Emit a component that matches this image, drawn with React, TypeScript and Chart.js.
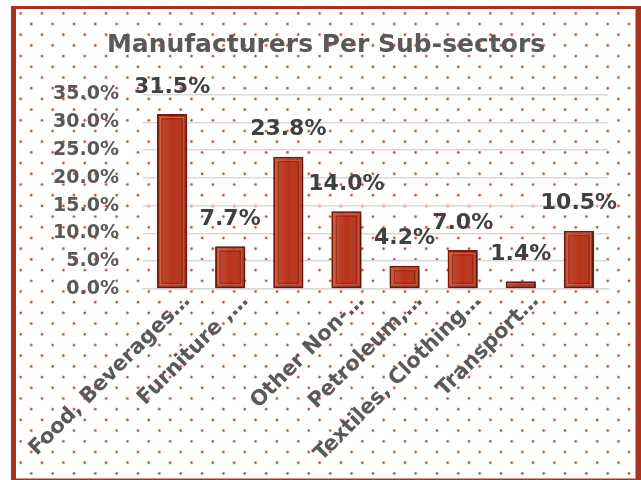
import React, { useEffect, useRef } from 'react';
import { Chart, registerables } from 'chart.js';

Chart.register(...registerables);

const titleText = 'Manufacturers Per Sub-sectors';
const categories = [
  'Food, Beverages…',
  'Furniture ,…',
  '',
  'Other Non-…',
  'Petroleum,…',
  'Textiles, Clothing…',
  'Transport…',
  '',
];
const values = [31.5, 7.7, 23.8, 14.0, 4.2, 7.0, 1.4, 10.5];
const yMin = 0;
const yMax = 35;
const yStep = 5;

const FONT = '"DejaVu Sans", Lato, sans-serif';
const GRAY = '#595959';
const DARK = '#404040';
const BORDER_RED = '#a8321c';

export default function App() {
  const ref = useRef<HTMLCanvasElement>(null);

  useEffect(() => {
    const canvas = ref.current;
    if (!canvas) return;

    const bgPlugin = {
      id: 'bgPattern',
      beforeDraw(chart: any) {
        const ctx = chart.ctx as CanvasRenderingContext2D;
        ctx.save();
        ctx.fillStyle = '#ffffff';
        ctx.fillRect(0, 0, chart.width, chart.height);
        const px = 21.35;
        const py = 10.7;
        for (let r = 0; ; r++) {
          const y = 13.3 + r * py;
          if (y > chart.height) break;
          const x0 = 20.7 + (r % 2 ? 10.6 : 0);
          for (let x = x0; x < chart.width - 4; x += px) {
            ctx.fillStyle = 'rgba(214,110,80,0.35)';
            ctx.beginPath();
            ctx.arc(x, y, 1.9, 0, Math.PI * 2);
            ctx.fill();
            ctx.fillStyle = '#c24a2c';
            ctx.beginPath();
            ctx.arc(x, y, 1.1, 0, Math.PI * 2);
            ctx.fill();
          }
        }
        ctx.restore();
      },
      afterDraw(chart: any) {
        const ctx = chart.ctx as CanvasRenderingContext2D;
        ctx.save();
        ctx.fillStyle = BORDER_RED;
        ctx.fillRect(11, 6, 5, chart.height - 6);
        ctx.fillRect(11, 6, chart.width - 11, 3);
        ctx.fillRect(635.5, 6, chart.width - 635.5, chart.height - 6);
        ctx.fillRect(11, 478.5, chart.width - 11, 2);
        // title
        ctx.fillStyle = GRAY;
        ctx.font = `bold 25px ${FONT}`;
        ctx.textAlign = 'center';
        ctx.textBaseline = 'middle';
        ctx.fillText(titleText, 326, 45);
        ctx.restore();
      },
      beforeDatasetsDraw(chart: any) {
        const ctx = chart.ctx as CanvasRenderingContext2D;
        ctx.save();
        ctx.shadowColor = 'rgba(0,0,0,0.35)';
        ctx.shadowBlur = 5;
        ctx.shadowOffsetX = 2;
        ctx.shadowOffsetY = 2;
      },
      afterDatasetsDraw(chart: any) {
        const ctx = chart.ctx as CanvasRenderingContext2D;
        ctx.restore();
        const meta = chart.getDatasetMeta(0);
        ctx.save();
        meta.data.forEach((el: any, i: number) => {
          const left = el.x - el.width / 2;
          const top = Math.min(el.y, el.base);
          const h = Math.abs(el.base - el.y);
          const w = el.width;
          // shading
          const g = ctx.createLinearGradient(left, 0, left + w, 0);
          g.addColorStop(0, 'rgba(255,200,180,0.18)');
          g.addColorStop(0.5, 'rgba(255,255,255,0)');
          g.addColorStop(1, 'rgba(60,0,0,0.15)');
          ctx.fillStyle = g;
          ctx.fillRect(left + 2, top + 2, w - 4, h - 4);
          // bevel
          if (h > 8) {
            ctx.strokeStyle = 'rgba(230,120,95,0.55)';
            ctx.lineWidth = 1;
            ctx.strokeRect(left + 3.5, top + 3.5, w - 7, h - 7);
            ctx.strokeStyle = 'rgba(110,20,5,0.45)';
            ctx.strokeRect(left + 5, top + 5, w - 10, h - 10);
          }
          // data label
          ctx.fillStyle = DARK;
          ctx.font = `bold 22px ${FONT}`;
          ctx.textAlign = 'center';
          ctx.textBaseline = 'middle';
          ctx.fillText(values[i].toFixed(1) + '%', el.x, el.y - 27);
        });
        ctx.restore();
      },
    };

    const chart = new Chart(canvas, {
      type: 'bar',
      data: {
        labels: categories,
        datasets: [
          {
            data: values,
            backgroundColor: '#b8331a',
            borderColor: '#7a1c0c',
            borderWidth: 2,
            borderSkipped: false,
            categoryPercentage: 1,
            barPercentage: 0.52,
          },
        ],
      },
      options: {
        responsive: false,
        animation: false,
        layout: { padding: { top: 94.5, right: 33, bottom: 0, left: 0 } },
        plugins: {
          legend: { display: false },
          tooltip: { enabled: false },
          title: { display: false },
        },
        scales: {
          x: {
            grid: { display: false, drawTicks: false },
            border: { display: true, color: '#d9d9d9', width: 1.5 },
            ticks: {
              autoSkip: false,
              maxRotation: 45,
              minRotation: 45,
              padding: 0,
              labelOffset: 15,
              color: GRAY,
              font: { family: FONT, size: 21, weight: 'bold' },
            },
            afterFit(scale: any) {
              scale.height = 191;
            },
          },
          y: {
            min: yMin,
            max: yMax,
            ticks: {
              stepSize: yStep,
              padding: 24,
              color: GRAY,
              font: { family: FONT, size: 19, weight: 'bold' },
              callback: (v: any) => Number(v).toFixed(1) + '%',
            },
            grid: { color: '#d9d9d9', lineWidth: 1.5, drawTicks: false },
            border: { display: false },
            afterFit(scale: any) {
              scale.width = 143;
            },
          },
        },
      },
      plugins: [bgPlugin],
    });

    return () => {
      chart.destroy();
    };
  }, []);

  return (
    <div style={{ position: 'fixed', left: 0, top: 0, width: 641, height: 480 }}>
      <canvas ref={ref} width={641} height={480} style={{ display: 'block' }} />
    </div>
  );
}
